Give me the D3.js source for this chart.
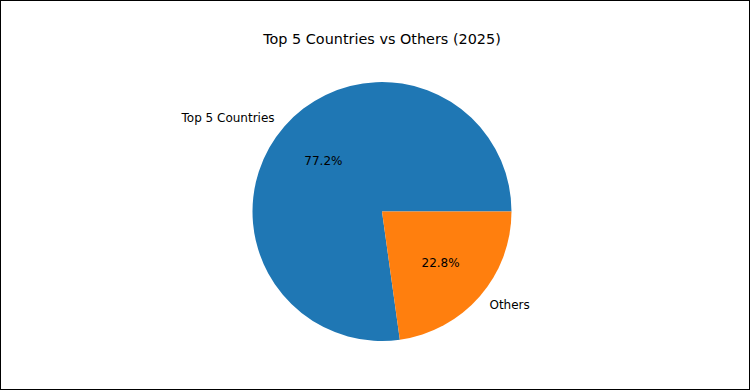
<!DOCTYPE html>
<html>
<head>
<meta charset="utf-8">
<script src="https://cdn.jsdelivr.net/npm/d3@7"></script>
<style>
  body { margin: 0; background: #fff; }
  svg { display: block; font-family: "DejaVu Sans", sans-serif; }
</style>
</head>
<body>
<script>
// Data
const labels = ["Top 5 Countries", "Others"];
const shares = [77.2, 22.8];
const colors = ["#1f77b4", "#ff7f0e"];
const title = "Top 5 Countries vs Others (2025)";

const width = 750, height = 390;
const cx = 382, cy = 211.5, radius = 129.5;

const svg = d3.select("body").append("svg")
    .attr("width", width)
    .attr("height", height);

// frame
svg.append("rect")
    .attr("x", 0.5).attr("y", 0.5)
    .attr("width", width - 1).attr("height", height - 1)
    .attr("fill", "#fff")
    .attr("stroke", "#000");

svg.append("text")
    .attr("x", cx)
    .attr("y", 44)
    .attr("text-anchor", "middle")
    .attr("font-size", 14.4)
    .attr("fill", "#000")
    .text(title);

const data = labels.map((l, i) => ({ label: l, value: shares[i], color: colors[i] }));

// matplotlib style: start at 3 o'clock, go counterclockwise
// d3 angles: 0 at 12 o'clock, clockwise -> start at PI/2, end at PI/2 - 2PI
const pie = d3.pie()
    .value(d => d.value)
    .sort(null)
    .startAngle(Math.PI / 2)
    .endAngle(Math.PI / 2 - 2 * Math.PI);

const arc = d3.arc().innerRadius(0).outerRadius(radius);

const g = svg.append("g").attr("transform", `translate(${cx},${cy})`);
const arcs = pie(data);

g.selectAll("path")
  .data(arcs)
  .join("path")
    .attr("d", arc)
    .attr("fill", d => d.data.color);

function pos(d, f) {
    const a = (d.startAngle + d.endAngle) / 2;
    return [Math.sin(a) * radius * f, -Math.cos(a) * radius * f];
}

// outer labels
g.selectAll("text.lbl")
  .data(arcs)
  .join("text")
    .attr("class", "lbl")
    .attr("x", d => pos(d, 1.1)[0])
    .attr("y", d => pos(d, 1.1)[1])
    .attr("dy", "0.35em")
    .attr("text-anchor", d => pos(d, 1.1)[0] < 0 ? "end" : "start")
    .attr("font-size", 12)
    .attr("fill", "#000")
    .text(d => d.data.label);

// percent labels
g.selectAll("text.pct")
  .data(arcs)
  .join("text")
    .attr("class", "pct")
    .attr("x", d => pos(d, 0.6)[0])
    .attr("y", d => pos(d, 0.6)[1])
    .attr("dy", "0.35em")
    .attr("text-anchor", "middle")
    .attr("font-size", 12)
    .attr("fill", "#000")
    .text(d => d.data.value.toFixed(1) + "%");
</script>
</body>
</html>
